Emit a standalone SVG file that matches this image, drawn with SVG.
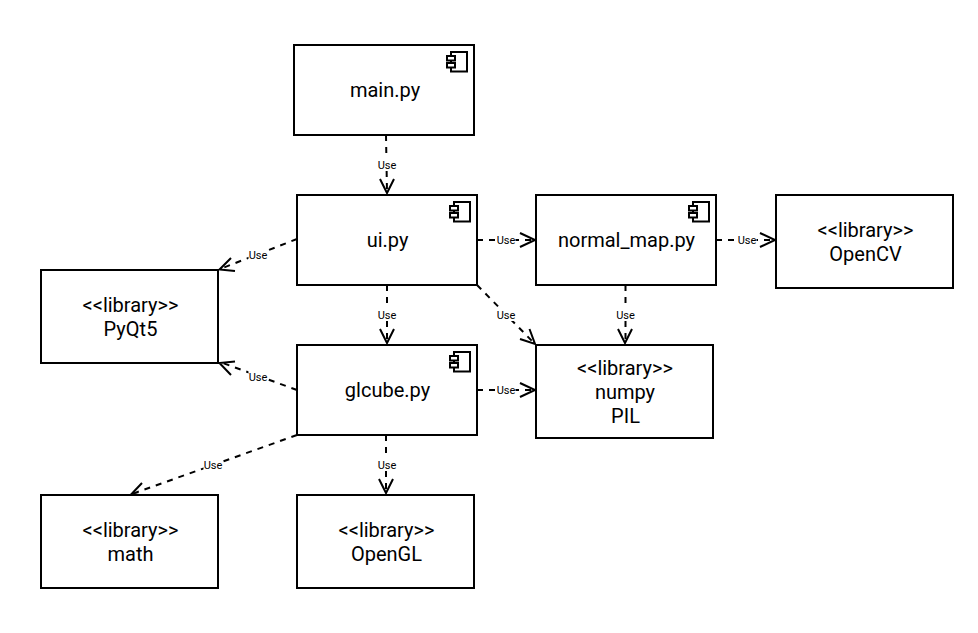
<svg xmlns="http://www.w3.org/2000/svg" width="978" height="633" viewBox="0 0 978 633">
<style>
.b{fill:#fff;stroke:#000;stroke-width:2}
.t{font-family:Roboto,sans-serif;font-size:20px;text-anchor:middle;fill:#000}
.c{fill:none;stroke:#000;stroke-width:2;stroke-dasharray:6 6}
.a{fill:none;stroke:#000;stroke-width:2}
.lb{fill:#fff}
.l{font-family:Roboto,sans-serif;font-size:11px;text-anchor:middle;fill:#000}
</style>
<defs>
<g id="icon"><rect class="b" x="-17" y="0" width="16" height="19.500"/><rect class="b" x="-21" y="4" width="8" height="4.500"/><rect class="b" x="-21" y="11" width="8" height="4.500"/></g>
</defs>
<rect width="978" height="633" fill="#fff"/>
<g id="connectors">
<path class="c" d="M386 135L387 192"/><path class="a" d="M380 179L387 193L394 179"/>
<path class="c" d="M297 239L220 269"/><path class="a" d="M231 258L219.500 269.500L235 271"/>
<path class="c" d="M387 285V343"/><path class="a" d="M380 329L387 343L394 329"/>
<path class="c" d="M477 240H534"/><path class="a" d="M520 233L535 240L520 247"/>
<path class="c" d="M477 285L534 343"/><path class="a" d="M520 339L535 344L529.500 329"/>
<path class="c" d="M716 240H774"/><path class="a" d="M760 233L775 240L760 247"/>
<path class="c" d="M625.500 285V343"/><path class="a" d="M618 329L625 343L632 329"/>
<path class="c" d="M297 390L220 362"/><path class="a" d="M235 361.500L219.500 363L231 375"/>
<path class="c" d="M477 390H534"/><path class="a" d="M520 383L535 390L520 397"/>
<path class="c" d="M297 435L132 494"/><path class="a" d="M142 483L131.500 494L147 496"/>
<path class="c" d="M386 435V493"/><path class="a" d="M379 479L386 493L393 479"/>
<g id="labels">
<rect class="lb" x="377.500" y="159" width="19" height="12"/><text class="l" x="387" y="169">Use</text>
<rect class="lb" x="248.500" y="249" width="19" height="12"/><text class="l" x="258" y="259">Use</text>
<rect class="lb" x="377.500" y="309" width="19" height="12"/><text class="l" x="387" y="319">Use</text>
<rect class="lb" x="496.500" y="234" width="19" height="12"/><text class="l" x="506" y="244">Use</text>
<rect class="lb" x="496.500" y="309" width="19" height="12"/><text class="l" x="506" y="319">Use</text>
<rect class="lb" x="737.500" y="234" width="19" height="12"/><text class="l" x="747" y="244">Use</text>
<rect class="lb" x="616" y="309" width="19" height="12"/><text class="l" x="625.500" y="319">Use</text>
<rect class="lb" x="248.500" y="371" width="19" height="12"/><text class="l" x="258" y="381">Use</text>
<rect class="lb" x="496.500" y="384" width="19" height="12"/><text class="l" x="506" y="394">Use</text>
<rect class="lb" x="203.500" y="459" width="19" height="12"/><text class="l" x="213" y="469">Use</text>
<rect class="lb" x="377.500" y="459" width="19" height="12"/><text class="l" x="387" y="469">Use</text>
</g>
</g>
<g id="main"><rect class="b" x="294" y="45" width="180" height="90"/><use href="#icon" x="468" y="52"/><text class="t" x="385" y="97">main.py</text></g>
<g id="ui"><rect class="b" x="297" y="195" width="180" height="90"/><use href="#icon" x="471" y="202"/><text class="t" x="387.500" y="247">ui.py</text></g>
<g id="normal_map"><rect class="b" x="536" y="195" width="180" height="90"/><use href="#icon" x="710" y="202"/><text class="t" x="626.500" y="247">normal_map.py</text></g>
<g id="opencv"><rect class="b" x="776" y="195" width="177" height="93"/><text class="t" x="865.500" y="237">&lt;&lt;library&gt;&gt;</text><text class="t" x="865.500" y="261">OpenCV</text></g>
<g id="pyqt5"><rect class="b" x="41" y="270" width="177" height="93"/><text class="t" x="130.500" y="312">&lt;&lt;library&gt;&gt;</text><text class="t" x="130.500" y="336">PyQt5</text></g>
<g id="glcube"><rect class="b" x="297" y="345" width="180" height="90"/><use href="#icon" x="471" y="352"/><text class="t" x="387.500" y="397">glcube.py</text></g>
<g id="numpy"><rect class="b" x="536" y="345" width="177" height="93"/><text class="t" x="625" y="375">&lt;&lt;library&gt;&gt;</text><text class="t" x="625" y="399">numpy</text><text class="t" x="625.500" y="423">PIL</text></g>
<g id="math"><rect class="b" x="41" y="495" width="177" height="93"/><text class="t" x="130.500" y="537">&lt;&lt;library&gt;&gt;</text><text class="t" x="130.500" y="561">math</text></g>
<g id="opengl"><rect class="b" x="297" y="495" width="177" height="93"/><text class="t" x="386.500" y="537">&lt;&lt;library&gt;&gt;</text><text class="t" x="386.500" y="561">OpenGL</text></g>
</svg>
